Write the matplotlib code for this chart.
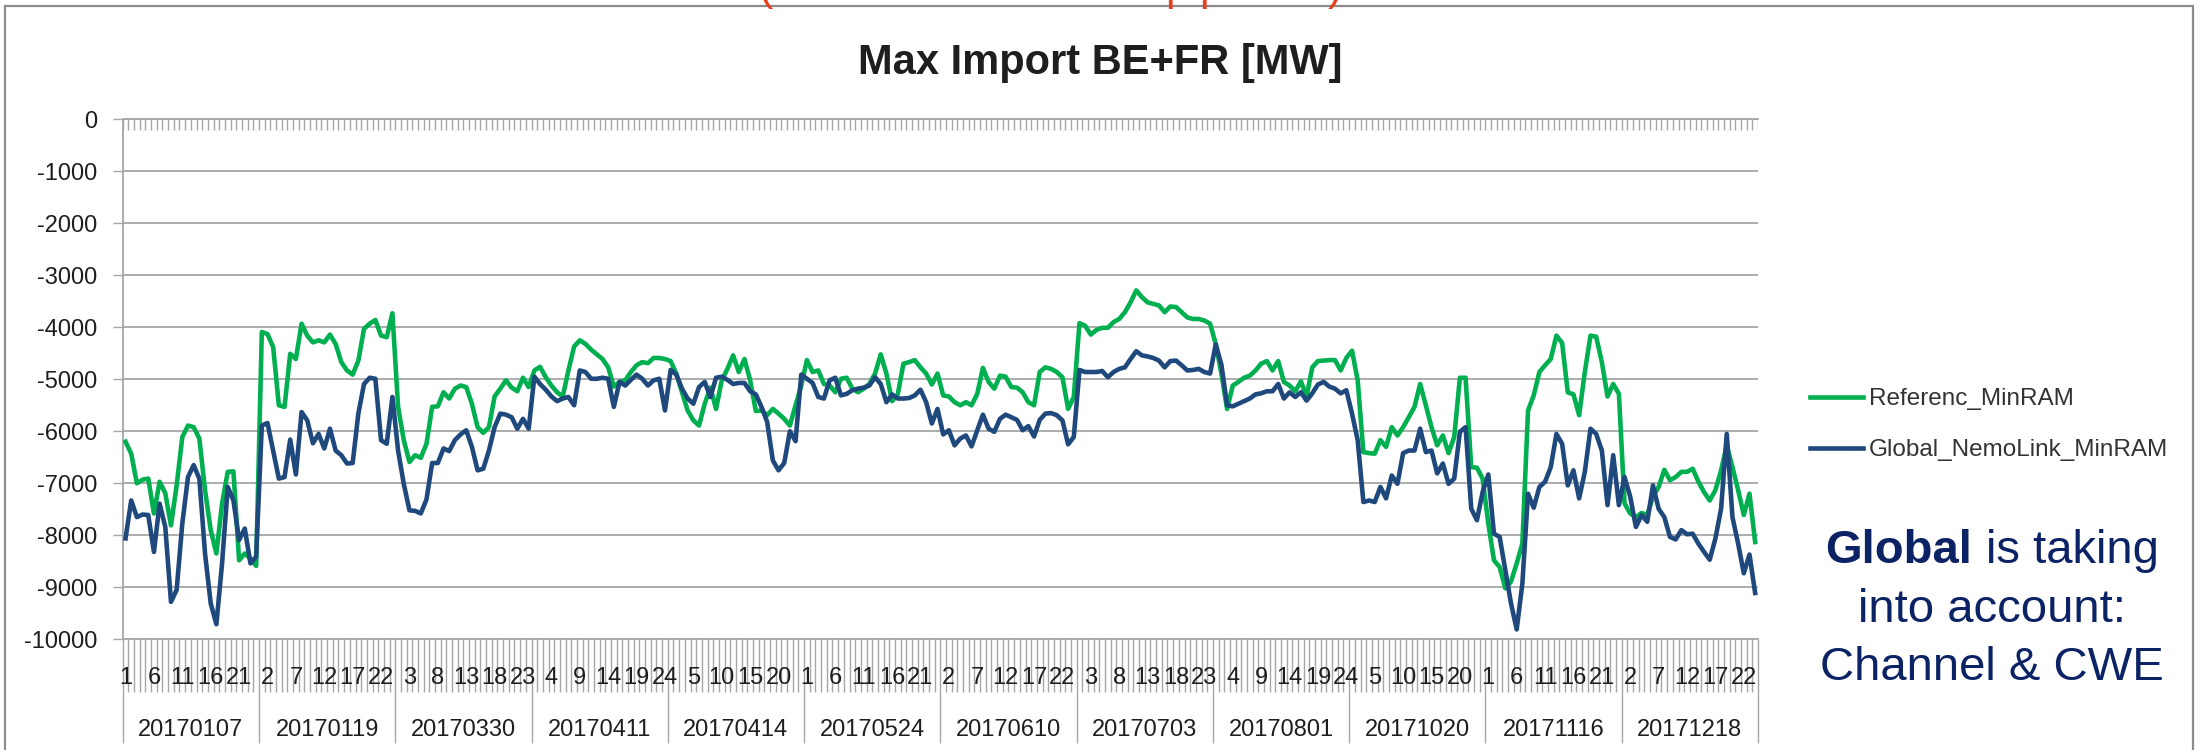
import matplotlib
matplotlib.use("Agg")
import matplotlib.pyplot as plt
import matplotlib.transforms as mtransforms
from matplotlib.patches import Rectangle
import numpy as np

plt.rcParams['font.family'] = ['Liberation Sans', 'DejaVu Sans']
plt.rcParams['axes.unicode_minus'] = False

# ---------------- data ----------------
dates = ["20170107", "20170119", "20170330", "20170411", "20170414", "20170524",
         "20170610", "20170703", "20170801", "20171020", "20171116", "20171218"]
hours = list(range(1, 25))

ref_d01 = [-6200, -6430, -7000, -6930, -6910, -7580, -6970, -7190, -7810, -7040, -6110, -5890,
           -5920, -6140, -7130, -7900, -8350, -7390, -6780, -6770, -8480, -8350, -8450, -8590]
ref_d02 = [-4090, -4130, -4380, -5500, -5530, -4510, -4610, -3930, -4160, -4290, -4250, -4290,
           -4140, -4320, -4670, -4830, -4910, -4640, -4030, -3930, -3860, -4160, -4190, -3730]
ref_d03 = [-5530, -6170, -6590, -6460, -6510, -6240, -5530, -5520, -5250, -5370, -5180, -5120,
           -5150, -5470, -5920, -6030, -5920, -5330, -5180, -5020, -5160, -5230, -4970, -5150]
ref_d04 = [-4830, -4760, -4960, -5120, -5250, -5330, -4830, -4370, -4250, -4320, -4430, -4520,
           -4610, -4770, -5140, -5050, -5020, -4860, -4730, -4670, -4690, -4590, -4590, -4610]
ref_d05 = [-4650, -4890, -5250, -5600, -5790, -5890, -5470, -5160, -5570, -5020, -4800, -4540,
           -4860, -4610, -5020, -5610, -5600, -5690, -5570, -5660, -5760, -5890, -5500, -5120]
ref_d06 = [-4630, -4860, -4830, -5090, -5120, -5250, -4990, -4970, -5180, -5250, -5180, -5090,
           -4890, -4520, -4890, -5420, -5290, -4700, -4670, -4630, -4770, -4890, -5100, -4890]
ref_d07 = [-5310, -5330, -5440, -5500, -5440, -5500, -5280, -4780, -5050, -5180, -4930, -4950,
           -5150, -5160, -5250, -5440, -5500, -4860, -4770, -4800, -4860, -4960, -5570, -5340]
ref_d08 = [-3920, -3970, -4140, -4050, -4010, -4010, -3900, -3840, -3710, -3520, -3290, -3420,
           -3520, -3550, -3580, -3710, -3600, -3610, -3710, -3810, -3840, -3840, -3870, -3930]
ref_d09 = [-4320, -4890, -5570, -5120, -5050, -4970, -4930, -4830, -4700, -4650, -4830, -4650,
           -5050, -5120, -5230, -5040, -5330, -4770, -4650, -4640, -4630, -4630, -4830, -4590]
ref_d10 = [-4450, -5020, -6400, -6420, -6430, -6170, -6300, -5920, -6080, -5920, -5730, -5530,
           -5090, -5500, -5920, -6270, -6080, -6420, -6110, -4970, -4970, -6690, -6700, -6910]
ref_d11 = [-7770, -8480, -8610, -9020, -8890, -8540, -8160, -5600, -5310, -4860, -4730, -4610,
           -4160, -4300, -5250, -5290, -5690, -4860, -4160, -4180, -4670, -5330, -5090, -5280]
ref_d12 = [-7390, -7580, -7650, -7570, -7610, -7260, -7070, -6740, -6940, -6880, -6780, -6780,
           -6720, -6970, -7170, -7330, -7130, -6750, -6270, -6690, -7130, -7610, -7200, -8130]

glo_d01 = [-8060, -7330, -7650, -7600, -7610, -8320, -7390, -7840, -9280, -9050, -7770, -6880,
           -6650, -6910, -8350, -9310, -9710, -8540, -7070, -7330, -8090, -7870, -8540, -8410]
glo_d02 = [-5890, -5840, -6370, -6910, -6880, -6160, -6830, -5630, -5790, -6230, -6050, -6330,
           -5950, -6370, -6460, -6620, -6610, -5660, -5090, -4970, -4990, -6170, -6240, -5340]
glo_d03 = [-6370, -7010, -7520, -7530, -7580, -7310, -6610, -6610, -6330, -6380, -6170, -6060,
           -5980, -6300, -6750, -6720, -6370, -5920, -5660, -5680, -5730, -5950, -5760, -5950]
glo_d04 = [-4950, -5090, -5200, -5330, -5420, -5370, -5340, -5500, -4830, -4860, -4990, -4990,
           -4970, -4990, -5530, -5050, -5120, -5010, -4910, -4990, -5120, -5020, -4990, -5600]
glo_d05 = [-4820, -4910, -5180, -5370, -5470, -5150, -5050, -5340, -4970, -4950, -5010, -5090,
           -5070, -5070, -5230, -5290, -5530, -5820, -6560, -6750, -6610, -6000, -6190, -4910]
glo_d06 = [-4990, -5070, -5340, -5370, -5020, -4970, -5310, -5280, -5210, -5180, -5160, -5120,
           -4960, -5090, -5440, -5290, -5370, -5370, -5360, -5310, -5200, -5440, -5850, -5570]
glo_d07 = [-6060, -5980, -6270, -6140, -6080, -6290, -5980, -5680, -5950, -6010, -5760, -5680,
           -5730, -5780, -5980, -5900, -6100, -5780, -5660, -5650, -5690, -5790, -6250, -6110]
glo_d08 = [-4820, -4860, -4860, -4860, -4840, -4960, -4860, -4800, -4770, -4610, -4460, -4540,
           -4560, -4590, -4640, -4770, -4650, -4640, -4730, -4830, -4820, -4800, -4860, -4890]
glo_d09 = [-4330, -4720, -5500, -5520, -5470, -5420, -5370, -5290, -5270, -5230, -5230, -5090,
           -5370, -5250, -5340, -5250, -5410, -5270, -5100, -5050, -5140, -5180, -5270, -5210]
glo_d10 = [-5660, -6170, -7360, -7330, -7360, -7070, -7290, -6850, -7010, -6420, -6370, -6370,
           -5950, -6400, -6370, -6810, -6620, -7010, -6910, -6010, -5920, -7490, -7710, -7170]
glo_d11 = [-6830, -7970, -8030, -8670, -9310, -9810, -8930, -7200, -7470, -7070, -6970, -6690,
           -6050, -6240, -7040, -6750, -7290, -6780, -5950, -6050, -6370, -7420, -6460, -7420]
glo_d12 = [-6880, -7260, -7840, -7610, -7740, -7040, -7490, -7650, -8030, -8080, -7900, -7980,
           -7970, -8160, -8320, -8470, -8060, -7490, -6050, -7650, -8160, -8730, -8370, -9110]

referenc_minram = (ref_d01 + ref_d02 + ref_d03 + ref_d04 + ref_d05 + ref_d06 +
                   ref_d07 + ref_d08 + ref_d09 + ref_d10 + ref_d11 + ref_d12)
global_nemolink_minram = (glo_d01 + glo_d02 + glo_d03 + glo_d04 + glo_d05 + glo_d06 +
                          glo_d07 + glo_d08 + glo_d09 + glo_d10 + glo_d11 + glo_d12)

series_names = ["Referenc_MinRAM", "Global_NemoLink_MinRAM"]
y_ticks = list(range(-10000, 1, 1000))
title = "Max Import BE+FR [MW]"

# ---------------- style ----------------
GREEN = "#00b050"
BLUE = "#1f497d"
GRID = "#a6a6a6"
TICK = "#a6a6a6"
TXT = "#1e1e1e"
NAVY = "#0b2264"
RED = "#e4401e"

W, H = 2195, 750
fig = plt.figure(figsize=(W / 100, H / 100), dpi=100)
fig.patch.set_facecolor("white")


def fx(px):
    return px / W


def fy(py):
    return 1 - py / H


ax_l, ax_r, ax_t, ax_b = 122.7, 1758.0, 119.3, 639.3
ax = fig.add_axes([fx(ax_l), fy(ax_b), (ax_r - ax_l) / W, (ax_b - ax_t) / H])

n = len(referenc_minram)
xs = np.arange(n) + 0.5
ax.set_xlim(0, n)
ax.set_ylim(-10000, 0)

ax.set_yticks(y_ticks)
ax.set_yticklabels([str(v) for v in y_ticks])
ax.yaxis.grid(True, color=GRID, lw=1.3)
ax.set_axisbelow(True)

ax.plot(xs, referenc_minram, color=GREEN, lw=3.3, label=series_names[0], zorder=3)
ax.plot(xs, global_nemolink_minram, color=BLUE, lw=3.3, label=series_names[1], zorder=4)

for side in ("left", "top", "bottom"):
    ax.spines[side].set_color(GRID)
    ax.spines[side].set_linewidth(1.3)
ax.spines["right"].set_visible(False)

ax.tick_params(axis="y", length=7, width=1, color=TICK, pad=11, labelsize=17, labelcolor=TXT)

ax.set_xticks(np.arange(0, n + 1, 24))
ax.set_xticks(np.arange(0, n + 1), minor=True)
ax.tick_params(axis="x", which="major", length=75, width=1, color=TICK,
               labelbottom=False, direction="out")
ax.tick_params(axis="x", which="minor", length=38, width=1, color=TICK, direction="out")

# small category ticks hanging from the zero axis
ax.vlines(np.arange(0, n + 1), -200, 0, color=TICK, lw=1, zorder=2)

trans = mtransforms.blended_transform_factory(ax.transData, ax.transAxes)
y_hour = -(678 - ax_b) / (ax_b - ax_t)
y_date = -(730 - ax_b) / (ax_b - ax_t)
for i in range(n):
    if i % 5 == 0:
        ax.text(xs[i], y_hour, str(hours[i % len(hours)]), transform=trans,
                ha="center", va="center", fontsize=17, color=TXT, clip_on=False)
for d, lab in enumerate(dates):
    ax.text(d * len(hours) + len(hours) / 2, y_date, lab, transform=trans,
            ha="center", va="center", fontsize=17, color=TXT, clip_on=False)

# title
fig.text(fx(1100), fy(74), title, ha="center", va="baseline", fontsize=30,
         fontweight="bold", color=TXT)

# legend
fig.legend(loc="upper left", bbox_to_anchor=(fx(1810), fy(388)), frameon=False,
           fontsize=17.5, handlelength=2.2, handletextpad=0.22, borderpad=0,
           borderaxespad=0, labelspacing=1.2, labelcolor="#333333")

# annotation
renderer = fig.canvas.get_renderer()
fs_note = 34
t1 = fig.text(0, fy(563), "Global", fontsize=fs_note, fontweight="bold", color=NAVY,
              va="baseline", ha="left")
t2 = fig.text(0, fy(563), "is taking", fontsize=fs_note, color=NAVY, va="baseline", ha="left")
w1 = t1.get_window_extent(renderer).width
w2 = t2.get_window_extent(renderer).width
gap = 0.278 * fs_note * 100 / 72
cx = 1992
left = cx - (w1 + gap + w2) / 2
t1.set_x(fx(left))
t2.set_x(fx(left + w1 + gap))
fig.text(fx(cx), fy(622), "into account:", fontsize=fs_note, color=NAVY, ha="center", va="baseline")
fig.text(fx(cx), fy(680), "Channel & CWE", fontsize=fs_note, color=NAVY, ha="center", va="baseline")

# outer chart frame
fig.add_artist(Rectangle((fx(5), fy(760)), (2193 - 5) / W, (760 - 6) / H,
                         transform=fig.transFigure, fill=False, edgecolor="#8c8c8c", lw=1.6))

# fragments of the slide heading cut off at the top edge (as in the reference)
for px, ch in [(758, "("), (1165, "p"), (1199, "p"), (1328, ")")]:
    fig.text(fx(px), 1.0, ch, fontsize=31, color=RED, ha="left", va="baseline", zorder=10)

fig.savefig("out.png", dpi=100, facecolor="white")
